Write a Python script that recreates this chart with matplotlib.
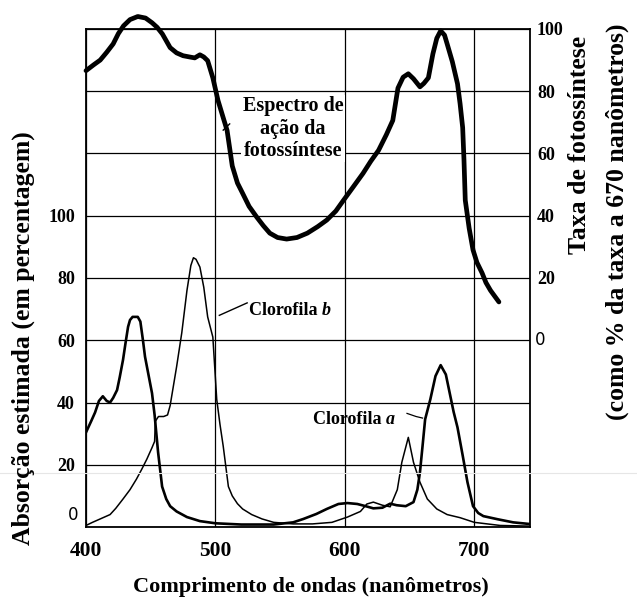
import matplotlib
matplotlib.use("Agg")
import matplotlib.pyplot as plt
from matplotlib.lines import Line2D
from matplotlib.transforms import blended_transform_factory

# ---------------- data ----------------
act_nm = [400, 406, 411, 416, 421, 425, 429, 434, 440, 446, 451, 455, 459, 465, 470,
          475, 480, 484, 488, 491, 494, 498, 502, 506, 509, 513, 517, 521, 526, 532,
          537, 542, 548, 555, 563, 571, 579, 586, 593, 599, 606, 614, 620, 626, 632,
          637, 641, 645, 649, 653, 658, 661, 664.5, 668, 671, 674, 677, 679, 683, 687,
          689, 691, 692, 693, 696, 699, 702, 706, 709, 712.5, 716, 719]
act_rate = [86.6, 88.5, 90, 92.5, 95.2, 98.5, 101, 103, 104, 103.5, 102, 100.5, 98.4, 94, 92.3,
            91.4, 91, 90.7, 91.7, 91, 89.8, 84.3, 77, 71.5, 67.4, 56, 50.5, 47.2, 43, 39.5,
            36.8, 34.4, 33, 32.5, 33, 34.4, 36.5, 38.6, 41.5, 45, 49, 53.6, 57.5, 61, 66,
            70.6, 81, 84.5, 85.6, 84, 81.4, 82.5, 84.3, 92, 97, 99.4, 98, 95.2, 89.5, 82.4,
            76, 68.3, 58, 45, 36, 29, 25, 21.6, 18.5, 16, 14, 12.3]

chla_nm = [400, 404, 407, 410, 413, 416, 418.6, 421, 424, 426, 428.6, 430.5, 432.5, 434, 436,
           440, 442, 444, 445.6, 448, 451, 453, 455.7, 458.8, 462, 465, 470, 478, 488, 500,
           520, 545, 560, 568, 578, 586, 595, 602, 609.6, 616, 622, 629, 635, 640, 647,
           653, 656, 658, 660, 662, 666, 670, 674, 678, 681.5, 684, 687, 691, 694.7, 699,
           703, 707, 718, 730, 742]
chla_abs = [30.4, 34, 36.8, 40.5, 42, 40.5, 40, 41.5, 44, 48, 53.7, 59, 64.3, 66.5, 67.5,
            67.5, 66, 60, 54.7, 49.5, 43, 36, 24, 13, 9, 6.7, 5, 3.2, 1.9, 1.2,
            0.8, 0.8, 1.5, 2.6, 4.2, 5.8, 7.4, 7.7, 7.4, 6.7, 6, 6.2, 7.5, 7, 6.7,
            8, 12, 17.6, 26, 34.6, 41, 48.5, 52, 49, 42, 37, 32, 23, 14.4, 6.7,
            4.5, 3.5, 2.5, 1.5, 1]

chlb_nm = [400, 405, 411, 418.6, 423, 428.6, 434, 439, 443, 447, 451, 453, 453.6, 456, 460,
           463, 465, 467, 470, 474, 478, 481, 483, 485, 488, 491, 494, 498, 501, 503.5,
           506, 510, 513, 517, 521, 528, 536, 545, 560, 575, 590, 602, 612, 617, 622,
           629, 635, 640.5, 644, 649, 653, 658, 663.7, 671, 679, 689, 700, 720, 742]
chlb_abs = [0.5, 1.5, 2.6, 4, 6, 9, 12, 15.4, 18.5, 21.8, 25.5, 27.5, 34, 35.5, 35.5,
            36, 39, 44, 51.5, 62.4, 76, 84, 86.5, 86, 83.5, 77, 67.5, 61, 41, 33,
            26, 13, 10, 7.5, 5.8, 4, 2.6, 1.5, 1, 1, 1.5, 3.2, 5, 7.4, 8,
            7, 6.5, 12, 20.8, 28.8, 20.8, 14.4, 9, 5.8, 4, 3, 1.5, 0.5, 0.3]

x_ticks = [400, 500, 600, 700]
left_ticks = [0, 20, 40, 60, 80, 100, 120, 140, 160]
left_labels = ["", "20", "40", "60", "80", "100", "", "", ""]
right_ticks = [0, 20, 40, 60, 80, 100]
right_labels = ["", "20", "40", "60", "80", "100"]

# ---------------- figure ----------------
fig = plt.figure(figsize=(6.37, 6.03), dpi=100)
ax = fig.add_axes([0.135, 0.126, 0.697, 0.826])
ax.set_xlim(400, 743)
ax.set_ylim(0, 160)

serif = "Liberation Serif"

ax.set_xticks(x_ticks)
ax.set_xticklabels([str(t) for t in x_ticks], fontfamily=serif, fontweight="bold", fontsize=15.5)
ax.set_yticks(left_ticks)
ax.set_yticklabels(left_labels, fontfamily=serif, fontweight="bold", fontsize=13)
ax.tick_params(axis="x", length=0, pad=10)
ax.tick_params(axis="y", length=0, pad=8)
ax.grid(True, color="black", linewidth=0.9)
for s in ax.spines.values():
    s.set_linewidth(1.3)

ax.plot(chla_nm, chla_abs, color="black", linewidth=1.9, solid_joinstyle="round")
ax.plot(chlb_nm, chlb_abs, color="black", linewidth=1.1, solid_joinstyle="round")

ax2 = ax.twinx()
ax2.set_ylim(-60, 100)
ax2.set_yticks(right_ticks)
ax2.set_yticklabels(right_labels, fontfamily=serif, fontweight="bold", fontsize=13)
ax2.tick_params(axis="y", length=0, pad=5)
for s in ax2.spines.values():
    s.set_visible(False)
ax2.plot(act_nm, act_rate, color="black", linewidth=3.4, clip_on=False,
         solid_capstyle="round", solid_joinstyle="round")

# the two "0" labels in plain sans
tl = blended_transform_factory(ax.transAxes, ax.transData)
ax.text(-0.028, 3.8, "0", transform=tl, ha="center", va="center",
        fontfamily="DejaVu Sans", fontsize=12)
tr = blended_transform_factory(ax2.transAxes, ax2.transData)
ax2.text(1.012, 0, "0", transform=tr, ha="left", va="center",
         fontfamily="DejaVu Sans", fontsize=12)

# axis titles
fig.text(23 / 637, 1 - 338 / 603, "Absorção estimada (em percentagem)", rotation=90,
         ha="center", va="center", fontfamily=serif, fontweight="bold", fontsize=18.5)
fig.text(580 / 637, 1 - 36 / 603, "Taxa de fotossíntese", rotation=90,
         ha="center", va="top", fontfamily=serif, fontweight="bold", fontsize=18.5)
fig.text(617 / 637, 1 - 24 / 603, "(como % da taxa a 670 nanômetros)", rotation=90,
         ha="center", va="top", fontfamily=serif, fontweight="bold", fontsize=18.5)
fig.text(311 / 637, 1 - 587 / 603, "Comprimento de ondas (nanômetros)",
         ha="center", va="center", fontfamily=serif, fontweight="bold", fontsize=16)

# annotations
ax.text(560, 128, "Espectro de\nação da\nfotossíntese", ha="center", va="center",
        fontfamily=serif, fontweight="bold", fontsize=14.5, linespacing=1.15,
        bbox=dict(facecolor="white", edgecolor="none", pad=1))
ax.plot([511, 506], [129.5, 127.5], color="black", linewidth=1)

t1 = ax.text(526, 68, "Clorofila ", ha="left", va="baseline",
             fontfamily=serif, fontweight="bold", fontsize=13)
ax.annotate("b", xy=(1, 0), xycoords=t1, ha="left", va="bottom",
            fontfamily=serif, fontweight="bold", fontstyle="italic", fontsize=13)
ax.plot([524.5, 503], [72, 68], color="black", linewidth=1)

t2 = ax.text(575, 33, "Clorofila ", ha="left", va="baseline",
             fontfamily=serif, fontweight="bold", fontsize=13)
ax.annotate("a", xy=(1, 0), xycoords=t2, ha="left", va="bottom",
            fontfamily=serif, fontweight="bold", fontstyle="italic", fontsize=13)
ax.plot([648, 655, 660], [36.5, 35.5, 35], color="black", linewidth=0.9)

# faint scan line
fig.add_artist(Line2D([0, 1], [1 - 473 / 603] * 2, color="#e6e6e6", linewidth=0.8))

fig.savefig("out.png", dpi=100, facecolor="white")
